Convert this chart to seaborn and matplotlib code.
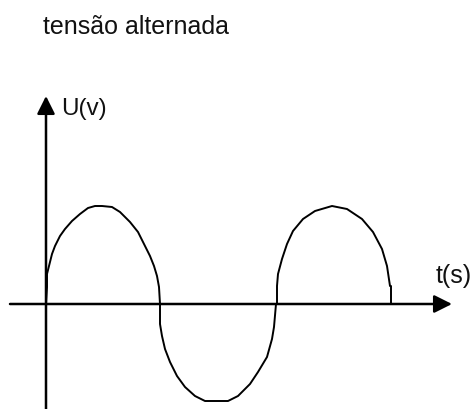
import matplotlib
matplotlib.use("Agg")
import matplotlib.pyplot as plt
import seaborn as sns
import pandas as pd

# Values (t: horizontal units, U: vertical units, origin at the axis crossing)
t_vals = [0, 1, 1, 3, 6, 9, 14, 19, 26, 34, 42, 49, 56, 66, 74, 84, 92, 99, 104, 108, 111, 113, 114,
          114, 116, 119, 124, 131, 139, 149, 159, 171, 182, 192, 204, 212, 221, 226, 228, 230,
          231, 231, 232, 236, 241, 247, 257, 269, 286, 301, 316, 327, 336, 341, 344, 345, 345]
u_vals = [0, 17, 30, 38, 50, 58, 68, 75, 83, 90, 96, 98, 98, 97, 92, 82, 72, 58, 48, 38, 28, 17, 0,
          -20, -32, -45, -58, -72, -83, -92, -97, -97, -97, -92, -80, -68, -53, -35, -23, 0,
          0, 18, 30, 45, 60, 73, 85, 93, 98, 95, 85, 72, 55, 38, 18, 18, 0]
x_axis_range = [-36, 406]
y_axis_range = [-105, 208]

title_text = "tensão alternada"
y_label = "U(v)"
x_label = "t(s)"

df = pd.DataFrame({"t": t_vals, "U": u_vals})

sns.set_theme(style="white")
plt.rcParams["font.family"] = ["Liberation Sans", "DejaVu Sans"]

fig = plt.figure(figsize=(4.73, 4.10), dpi=100)
ax = fig.add_axes([0, 0, 1, 1])
ax.set_xlim(-46, 427)
ax.set_ylim(-105, 305)
ax.axis("off")

# axes with arrows
ax.annotate("", xy=(x_axis_range[1], 0), xytext=(x_axis_range[0], 0),
            arrowprops=dict(arrowstyle="-|>,head_length=0.9,head_width=0.45",
                            color="black", lw=1.8, shrinkA=0, shrinkB=0))
ax.annotate("", xy=(0, y_axis_range[1]), xytext=(0, y_axis_range[0]),
            arrowprops=dict(arrowstyle="-|>,head_length=0.9,head_width=0.45",
                            color="black", lw=1.8, shrinkA=0, shrinkB=0))

sns.lineplot(data=df, x="t", y="U", sort=False, estimator=None, ax=ax,
             color="black", linewidth=1.4)

fig.text(43 / 473, 1 - 34 / 410, title_text, fontsize=18, color="#111111",
         ha="left", va="baseline")
ax.text(15, 305 - 115, y_label, fontsize=17.5, ha="left", va="baseline", color="#111111")
ax.text(390, 305 - 283, x_label, fontsize=18, ha="left", va="baseline", color="#111111")

fig.savefig("out.png", dpi=100)
